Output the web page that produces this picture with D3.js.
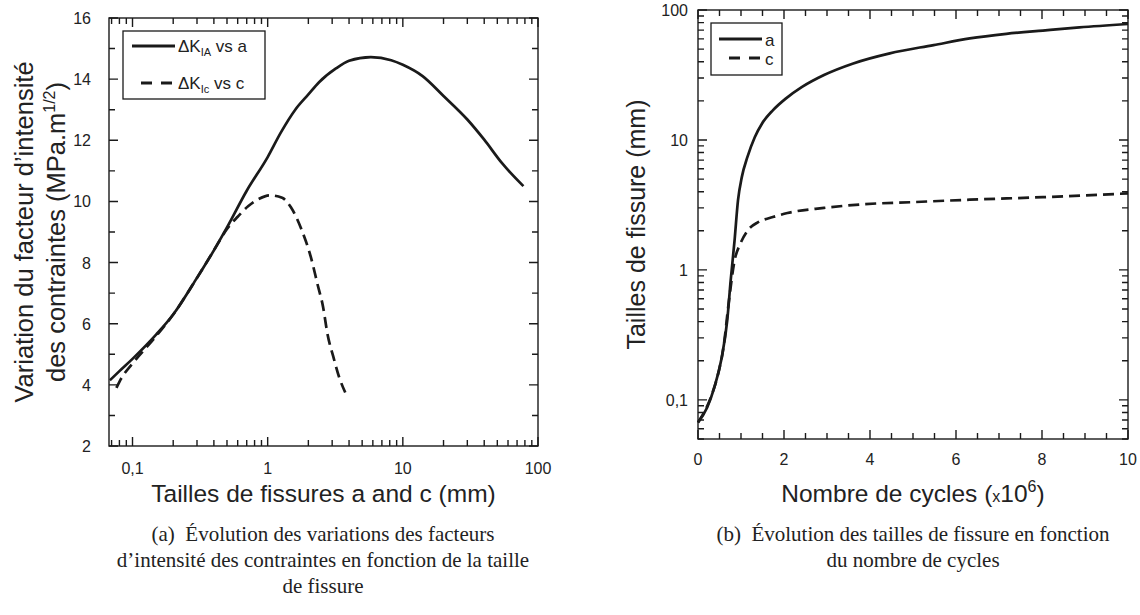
<!DOCTYPE html>
<html><head><meta charset="utf-8">
<script src="https://cdn.jsdelivr.net/npm/d3@7"></script>
<style>
body{margin:0;background:#fff;}
svg text{font-family:"Liberation Sans",Arial,sans-serif;fill:#222;}
svg text.cap{font-family:"Liberation Serif","Times New Roman",serif;}
</style></head><body>
<svg id="c" width="1140" height="615"></svg>
<script>
// ---- Data: left chart (ΔK vs crack size, mm)
const kaX = [0.068,0.08,0.1,0.15,0.2,0.3,0.4,0.5,0.7,1,1.25,1.6,2,2.4,3.2,4,5.8,8.2,10,14,20,30,40,54,78];
const kaY = [4.15,4.45,4.85,5.65,6.3,7.5,8.4,9.15,10.35,11.45,12.25,13.0,13.5,13.9,14.35,14.6,14.72,14.62,14.47,14.1,13.45,12.68,12.02,11.26,10.5];
const kcX = [0.076,0.08,0.085,0.1,0.15,0.2,0.3,0.4,0.5,0.6,0.72,0.86,1.03,1.28,1.49,1.78,2.08,2.35,2.57,2.76,3.09,3.38,3.75];
const kcY = [3.9,4.1,4.3,4.7,5.6,6.3,7.5,8.4,9.1,9.5,9.85,10.08,10.2,10.12,9.8,9.08,8.2,7.25,6.55,5.7,4.85,4.25,3.75];
const leftXTicks = [0.1,1,10,100];
const leftXTickLabels = ["0,1","1","10","100"];
const leftYTicks = [2,4,6,8,10,12,14,16];

// ---- Data: right chart (crack size vs cycles ×10^6)
const nA = [0,0.21,0.38,0.55,0.68,0.76,0.85,0.93,1.02,1.15,1.32,1.49,1.74,2.04,2.42,2.93,3.61,4.46,5.48,6.32,7.17,8.02,8.87,10];
const aV = [0.067,0.087,0.125,0.21,0.41,0.83,1.68,3.43,5.2,7.4,10.5,13.4,16.9,20.8,25.6,31.6,38.8,46.4,53.7,60.4,65.5,69.5,73.5,78];
const nC = [0,0.3,0.47,0.59,0.72,0.85,0.98,1.15,1.4,1.74,2.08,2.93,3.78,5.05,6.32,8.02,10];
const cV = [0.067,0.105,0.16,0.25,0.58,1.18,1.58,2.0,2.33,2.55,2.74,3.0,3.19,3.33,3.47,3.63,3.88];
const rightXTicks = [0,2,4,6,8,10];
const rightYTicks = [0.1,1,10,100];
const rightYTickLabels = ["0,1","1","10","100"];

const svg = d3.select("#c");
const ink = "#1a1a1a";

function logMinors(lo, hi){
  const out=[];
  for(let e=-2;e<=2;e++){for(let m=1;m<=9;m++){const v=m*Math.pow(10,e); if(v>=lo-1e-9&&v<=hi+1e-9) out.push(v);}}
  return out;
}
function isMajorLog(v){const l=Math.log10(v);return Math.abs(l-Math.round(l))<1e-6;}

// inward tick marks on all four sides + frame
function addTicks(g, x, y, xVals, xMaj, yVals, yMaj, x0, x1, y0, y1){
  const p = d3.path();
  xVals.forEach(v=>{const L=xMaj(v)?9:6, px=x(v);
    p.moveTo(px,y1); p.lineTo(px,y1-L); p.moveTo(px,y0); p.lineTo(px,y0+L);});
  yVals.forEach(v=>{const L=yMaj(v)?9:6, py=y(v);
    p.moveTo(x0,py); p.lineTo(x0+L,py); p.moveTo(x1,py); p.lineTo(x1-L,py);});
  g.append("path").attr("d",p.toString()).attr("fill","none").attr("stroke",ink).attr("stroke-width",1.4);
  g.append("rect").attr("x",x0).attr("y",y0).attr("width",x1-x0).attr("height",y1-y0)
   .attr("fill","none").attr("stroke",ink).attr("stroke-width",1.4);
}

// ================= LEFT =================
{
  const x0=109,x1=538,y0=18,y1=446;
  const x = d3.scaleLog().domain([0.067,100]).range([x0,x1]);
  const y = d3.scaleLinear().domain([2,16]).range([y1,y0]);
  const g = svg.append("g");
  addTicks(g, x, y, logMinors(0.067,100), isMajorLog, d3.range(2,16.01,1), v=>v%2===0, x0, x1, y0, y1);
  leftXTicks.forEach((v,i)=>g.append("text").attr("x",x(v)).attr("y",y1+28).attr("text-anchor","middle").attr("font-size",16).text(leftXTickLabels[i]));
  leftYTicks.forEach(v=>g.append("text").attr("x",x0-18).attr("y",y(v)+6).attr("text-anchor","end").attr("font-size",16).text(v));
  g.append("text").attr("x",(x0+x1)/2).attr("y",502).attr("text-anchor","middle").attr("font-size",24.5).text("Tailles de fissures a and c (mm)");
  const cy=(y0+y1)/2;
  g.append("text").attr("transform",`translate(33,${cy}) rotate(-90)`).attr("text-anchor","middle").attr("font-size",25.5).text("Variation du facteur d\u2019intensit\u00e9");
  const t2 = g.append("text").attr("transform",`translate(65,${cy}) rotate(-90)`).attr("text-anchor","middle").attr("font-size",25.5);
  t2.append("tspan").text("des contraintes (MPa.m");
  t2.append("tspan").attr("font-size",16).attr("dy",-10).text("1/2");
  t2.append("tspan").attr("dy",10).text(")");

  const line = d3.line().x(d=>x(d[0])).y(d=>y(d[1])).curve(d3.curveMonotoneX);
  g.append("path").attr("d",line(d3.zip(kaX,kaY))).attr("fill","none").attr("stroke",ink).attr("stroke-width",2.7);
  g.append("path").attr("d",line(d3.zip(kcX,kcY))).attr("fill","none").attr("stroke",ink).attr("stroke-width",2.7).attr("stroke-dasharray","11,6");

  // legend
  g.append("rect").attr("x",123).attr("y",31).attr("width",142).attr("height",68).attr("fill","#fff").attr("stroke",ink).attr("stroke-width",1.3);
  g.append("line").attr("x1",132).attr("x2",175).attr("y1",46).attr("y2",46).attr("stroke",ink).attr("stroke-width",2.8);
  g.append("line").attr("x1",141).attr("x2",172).attr("y1",83).attr("y2",83).attr("stroke",ink).attr("stroke-width",2.8).attr("stroke-dasharray","11,9");
  const l1=g.append("text").attr("x",178).attr("y",52).attr("font-size",17);
  l1.append("tspan").text("\u0394K");
  l1.append("tspan").attr("font-size",11).attr("dy",4).text("IA");
  l1.append("tspan").attr("dy",-4).text(" vs a");
  const l2=g.append("text").attr("x",178).attr("y",89).attr("font-size",17);
  l2.append("tspan").text("\u0394K");
  l2.append("tspan").attr("font-size",11).attr("dy",4).text("Ic");
  l2.append("tspan").attr("dy",-4).text(" vs c");

  const cap = g.append("text").attr("class","cap").attr("text-anchor","middle").attr("font-size",21);
  ["(a)\u2002\u00c9volution des variations des facteurs","d\u2019intensit\u00e9 des contraintes en fonction de la taille","de fissure"]
   .forEach((s,i)=>cap.append("tspan").attr("x",323).attr("y",541+i*26).text(s));
}

// ================= RIGHT =================
{
  const x0=698,x1=1128,y0=10,y1=439;
  const x = d3.scaleLinear().domain([0,10]).range([x0,x1]);
  const y = d3.scaleLog().domain([0.05,100]).range([y1,y0]);
  const g = svg.append("g");
  addTicks(g, x, y, d3.range(0,10.01,0.5), v=>Math.abs(v/2-Math.round(v/2))<1e-6, logMinors(0.05,100), isMajorLog, x0, x1, y0, y1);
  rightXTicks.forEach(v=>g.append("text").attr("x",x(v)).attr("y",y1+26).attr("text-anchor","middle").attr("font-size",16).text(v));
  rightYTicks.forEach((v,i)=>g.append("text").attr("x",x0-10).attr("y",y(v)+6).attr("text-anchor","end").attr("font-size",16).text(rightYTickLabels[i]));
  const xt = g.append("text").attr("x",(x0+x1)/2).attr("y",502).attr("text-anchor","middle").attr("font-size",24.5);
  xt.append("tspan").text("Nombre de cycles (");
  xt.append("tspan").attr("font-size",16).text("x");
  xt.append("tspan").text("10");
  xt.append("tspan").attr("font-size",16).attr("dy",-10).text("6");
  xt.append("tspan").attr("dy",10).text(")");
  g.append("text").attr("transform",`translate(645,${(y0+y1)/2}) rotate(-90)`).attr("text-anchor","middle").attr("font-size",25).text("Tailles de fissure (mm)");

  const line = d3.line().x(d=>x(d[0])).y(d=>y(d[1])).curve(d3.curveMonotoneX);
  g.append("path").attr("d",line(d3.zip(nA,aV))).attr("fill","none").attr("stroke",ink).attr("stroke-width",2.7);
  g.append("path").attr("d",line(d3.zip(nC,cV))).attr("fill","none").attr("stroke",ink).attr("stroke-width",2.7).attr("stroke-dasharray","11,6");

  g.append("rect").attr("x",711).attr("y",23).attr("width",71).attr("height",52).attr("fill","#fff").attr("stroke",ink).attr("stroke-width",1.3);
  g.append("line").attr("x1",719).attr("x2",762).attr("y1",39).attr("y2",39).attr("stroke",ink).attr("stroke-width",2.8);
  g.append("line").attr("x1",729).attr("x2",761).attr("y1",58).attr("y2",58).attr("stroke",ink).attr("stroke-width",2.8).attr("stroke-dasharray","11,9");
  g.append("text").attr("x",765).attr("y",46).attr("font-size",17).text("a");
  g.append("text").attr("x",765).attr("y",65).attr("font-size",17).text("c");

  const cap = g.append("text").attr("class","cap").attr("text-anchor","middle").attr("font-size",21);
  ["(b)\u2002\u00c9volution des tailles de fissure en fonction","du nombre de cycles"]
   .forEach((s,i)=>cap.append("tspan").attr("x",913).attr("y",541+i*26).text(s));
}
</script></body></html>
